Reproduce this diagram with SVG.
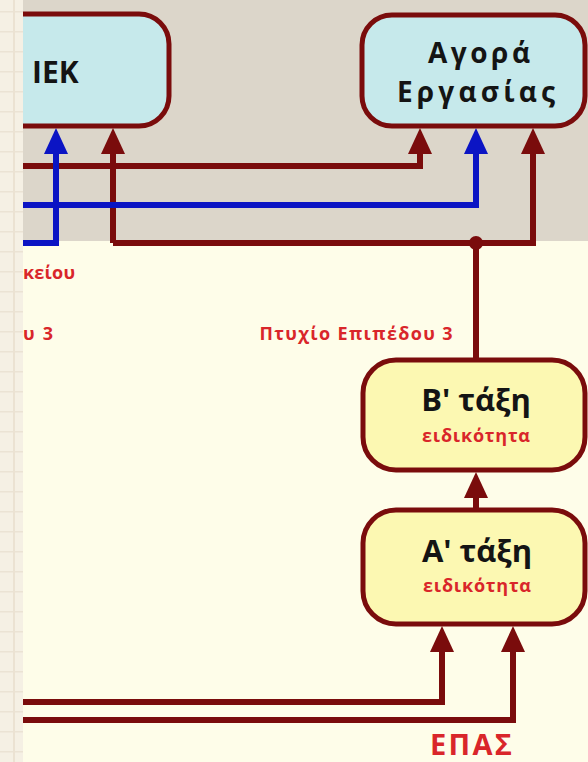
<svg xmlns="http://www.w3.org/2000/svg" width="588" height="762" viewBox="0 0 588 762">
<style>
.ln{fill:none;stroke-width:6;stroke-linejoin:miter}
.r{stroke:#7a0c0c}
.b{stroke:#0b14c4}
.box{stroke:#7a0c0c;stroke-width:5}
.cy{fill:#c6e9eb}
.ye{fill:#fcf8b2}
.t{font-family:"Open Sans","Noto Sans",sans-serif;font-weight:bold}
.dk{fill:#141414}
.rt{fill:#d9262a}
</style>
<defs>
<pattern id="grid" width="23" height="20" patternUnits="userSpaceOnUse">
<rect width="23" height="20" fill="#f5f0e4"/>
<rect x="0" y="11" width="23" height="1.5" fill="#ebe3d4"/>
<rect x="13" y="0" width="2" height="20" fill="#ebe2d2"/>
</pattern>
<marker id="ar" viewBox="0 0 26 24" refX="0" refY="12" markerWidth="26" markerHeight="24" markerUnits="userSpaceOnUse" orient="auto">
<path d="M0,0 L26,12 L0,24 z" fill="#7a0c0c"/>
</marker>
<marker id="ab" viewBox="0 0 26 24" refX="0" refY="12" markerWidth="26" markerHeight="24" markerUnits="userSpaceOnUse" orient="auto">
<path d="M0,0 L26,12 L0,24 z" fill="#0b14c4"/>
</marker>
</defs>
<rect x="0" y="0" width="588" height="241" fill="#dcd6ca"/>
<rect x="0" y="241" width="588" height="521" fill="#fefde9"/>

<g id="connectors">
<path class="ln r" d="M0,166 H420 V154" marker-end="url(#ar)"/>
<path class="ln r" d="M113,243 V154" marker-end="url(#ar)"/>
<path class="ln r" d="M113,243 H533 V154" marker-end="url(#ar)"/>
<path class="ln b" d="M0,205 H476 V154" marker-end="url(#ab)"/>
<path class="ln b" d="M0,243 H56 V154" marker-end="url(#ab)"/>
<path class="ln r" d="M476,243 V360"/>
<circle cx="476" cy="243" r="7" fill="#7a0c0c"/>
<path class="ln r" d="M476,510 V498" marker-end="url(#ar)"/>
<path class="ln r" d="M0,702 H442 V652" marker-end="url(#ar)"/>
<path class="ln r" d="M0,720 H513 V652" marker-end="url(#ar)"/>
</g>

<g id="iek">
<rect class="box cy" x="-40" y="14" width="209" height="112" rx="30"/>
<text class="t dk" x="32" y="83" font-size="30">IEK</text>
</g>
<g id="agora">
<rect class="box cy" x="362" y="15" width="223" height="111" rx="30"/>
<text class="t dk" x="479" y="63" font-size="28" text-anchor="middle" textLength="102">Αγορά</text>
<text class="t dk" x="476" y="102" font-size="28" text-anchor="middle" textLength="158">Εργασίας</text>
</g>
<g id="b-taxi">
<rect class="box ye" x="363" y="360" width="222" height="110" rx="33"/>
<text class="t dk" x="476" y="411" font-size="31" text-anchor="middle">B' τάξη</text>
<text class="t rt" x="476" y="442" font-size="18" text-anchor="middle" textLength="108">ειδικότητα</text>
</g>
<g id="a-taxi">
<rect class="box ye" x="363" y="510" width="222" height="114" rx="33"/>
<text class="t dk" x="477" y="562" font-size="31" text-anchor="middle">A' τάξη</text>
<text class="t rt" x="477" y="592" font-size="18" text-anchor="middle" textLength="108">ειδικότητα</text>
</g>

<g id="labels">
<text class="t rt" x="23" y="279" font-size="18" textLength="52">κείου</text>
<text class="t rt" x="23" y="340" font-size="18" textLength="30">υ 3</text>
<text class="t rt" x="356" y="340" font-size="18" text-anchor="middle" textLength="193">Πτυχίο Επιπέδου 3</text>
<text class="t rt" x="471" y="755" font-size="29" text-anchor="middle" textLength="82">ΕΠΑΣ</text>
</g>

<rect x="0" y="0" width="23" height="762" fill="url(#grid)"/>
</svg>
